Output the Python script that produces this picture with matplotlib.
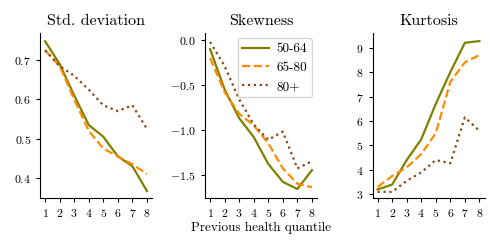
import matplotlib
matplotlib.use("Agg")
import matplotlib.pyplot as plt

plt.rcParams['font.family'] = ['cmr10', 'DejaVu Serif']
plt.rcParams['mathtext.fontset'] = 'cm'
plt.rcParams['axes.formatter.use_mathtext'] = True
plt.rcParams['axes.unicode_minus'] = True

quantiles = [1, 2, 3, 4, 5, 6, 7, 8]
groups = ["50-64", "65-80", "80+"]
titles = ["Std. deviation", "Skewness", "Kurtosis"]

std_5064 = [0.748, 0.69, 0.61, 0.535, 0.505, 0.455, 0.43, 0.367]
std_6580 = [0.725, 0.685, 0.60, 0.52, 0.475, 0.455, 0.435, 0.41]
std_80p = [0.725, 0.685, 0.66, 0.625, 0.585, 0.57, 0.585, 0.525]

skew_5064 = [-0.10, -0.55, -0.87, -1.08, -1.38, -1.58, -1.66, -1.45]
skew_6580 = [-0.20, -0.58, -0.82, -0.95, -1.15, -1.43, -1.60, -1.64]
skew_80p = [-0.02, -0.29, -0.66, -0.94, -1.11, -1.02, -1.43, -1.35]

kurt_5064 = [3.2, 3.4, 4.4, 5.25, 6.7, 8.0, 9.2, 9.27]
kurt_6580 = [3.3, 3.75, 4.1, 4.65, 5.5, 7.6, 8.4, 8.7]
kurt_80p = [3.1, 3.1, 3.55, 3.9, 4.4, 4.27, 6.15, 5.6]

data = [
    [std_5064, std_6580, std_80p],
    [skew_5064, skew_6580, skew_80p],
    [kurt_5064, kurt_6580, kurt_80p],
]
colors = ["#808000", "#ff8c00", "#8b4513"]
styles = ["-", "--", ":"]

fig = plt.figure(figsize=(5, 2.5), dpi=100)
lefts = [0.08, 0.41, 0.745]
axes = [fig.add_axes([l, 0.208, 0.224, 0.66]) for l in lefts]

ylims = [(0.349, 0.769), (-1.76, 0.08), (2.85, 9.6)]
for ax, series, title, yl in zip(axes, data, titles, ylims):
    for vals, c, ls, g in zip(series, colors, styles, groups):
        ax.plot(quantiles, vals, color=c, linestyle=ls, lw=1.6, label=g)
    ax.set_title(title, fontsize=11.5)
    ax.set_xticks(quantiles)
    ax.set_xlim(0.65, 8.35)
    ax.set_ylim(*yl)
    ax.spines['top'].set_visible(False)
    ax.spines['right'].set_visible(False)
    ax.tick_params(labelsize=8.5, length=3)

axes[0].set_yticks([0.4, 0.5, 0.6, 0.7])
axes[1].set_yticks([0.0, -0.5, -1.0, -1.5])
axes[2].set_yticks([3, 4, 5, 6, 7, 8, 9])
axes[1].set_xlabel("Previous health quantile", fontsize=9.5, labelpad=2)
axes[1].legend(loc="upper right", fontsize=9.5, handlelength=2.0,
               handletextpad=0.6, borderpad=0.35, borderaxespad=0.4)

fig.savefig("out.png", dpi=100)
